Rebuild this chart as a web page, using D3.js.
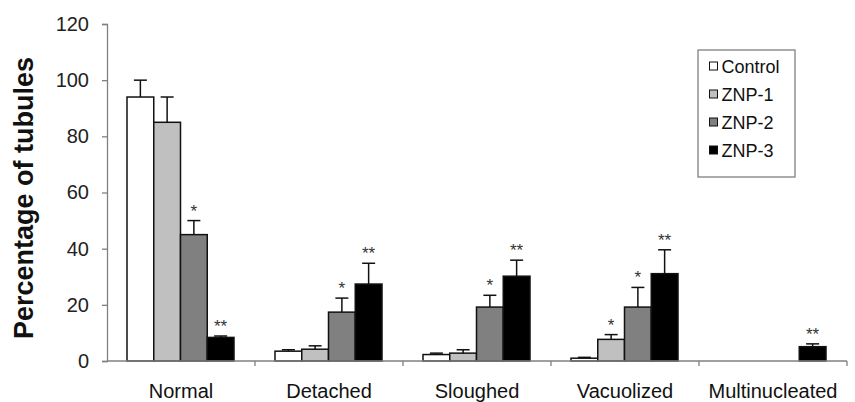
<!DOCTYPE html>
<html>
<head>
<meta charset="utf-8">
<script src="https://cdn.jsdelivr.net/npm/d3@7"></script>
<style>
  body { margin: 0; background: #fff; }
  text { font-family: "Liberation Sans", Arial, sans-serif; }
</style>
</head>
<body>
<svg id="chart"></svg>
<script>
'use strict';
const categories = ['Normal', 'Detached', 'Sloughed', 'Vacuolized', 'Multinucleated'];
const seriesNames = ['Control', 'ZNP-1', 'ZNP-2', 'ZNP-3'];
const seriesColors = ['#ffffff', '#c0c0c0', '#808080', '#000000'];
// one array per series, values per category
const controlVals = [94, 3.5, 2.3, 1, 0];
const znp1Vals = [85, 4.2, 2.8, 7.7, 0];
const znp2Vals = [45, 17.4, 19.2, 19.2, 0];
const znp3Vals = [8.4, 27.4, 30.2, 31.1, 5.1];
const controlErr = [6, 0.5, 0.5, 0.3, 0];
const znp1Err = [9, 1.2, 1.2, 1.7, 0];
const znp2Err = [5, 5, 4.2, 7, 0];
const znp3Err = [0.5, 7.4, 5.7, 8.5, 1];
const controlSig = ['', '', '', '', ''];
const znp1Sig = ['', '', '', '*', ''];
const znp2Sig = ['*', '*', '*', '*', ''];
const znp3Sig = ['**', '**', '**', '**', '**'];
const yTicks = [0, 20, 40, 60, 80, 100, 120];

const W = 855, H = 402;
const svg = d3.select('#chart').attr('width', W).attr('height', H);

const x0 = d3.scaleBand().domain(categories).range([107, 847]).paddingInner(0).paddingOuter(0);
const x1 = d3.scaleBand().domain(seriesNames).range([20, 127]);
const y = d3.scaleLinear().domain([0, 120]).range([361, 24]);

const vals = [controlVals, znp1Vals, znp2Vals, znp3Vals];
const errs = [controlErr, znp1Err, znp2Err, znp3Err];
const sigs = [controlSig, znp1Sig, znp2Sig, znp3Sig];

let rows = [];
categories.forEach(function(c, ci) {
  seriesNames.forEach(function(s, si) {
    rows.push({ cat: c, series: s, si: si, v: vals[si][ci], e: errs[si][ci], sig: sigs[si][ci] });
  });
});

// y axis
const yAxis = svg.append('g').attr('transform', 'translate(107,0)')
  .call(d3.axisLeft(y).tickValues(yTicks).tickSize(5).tickPadding(13));
yAxis.select('.domain').attr('stroke', '#808080').attr('stroke-width', 1.3);
yAxis.selectAll('.tick line').attr('stroke', '#808080').attr('stroke-width', 1.3);
yAxis.selectAll('.tick text').attr('font-size', 20).attr('fill', '#222');

svg.append('text')
  .attr('transform', 'translate(33,198) rotate(-90)')
  .attr('text-anchor', 'middle')
  .attr('font-size', 27)
  .attr('font-weight', 'bold')
  .attr('fill', '#111')
  .text('Percentage of tubules');

// bars
const bars = rows.filter(function(d) { return d.v > 0; });
svg.selectAll('rect.bar')
  .data(bars)
  .enter()
  .append('rect')
  .attr('class', 'bar')
  .attr('x', function(d) { return x0(d.cat) + x1(d.series); })
  .attr('width', x1.bandwidth())
  .attr('y', function(d) { return y(d.v); })
  .attr('height', function(d) { return y(0) - y(d.v); })
  .attr('fill', function(d) { return seriesColors[d.si]; })
  .attr('stroke', '#111')
  .attr('stroke-width', 1.5);

// error bars (upper only)
const eb = svg.selectAll('g.err')
  .data(bars.filter(function(d) { return d.e > 0; }))
  .enter()
  .append('g')
  .attr('class', 'err')
  .attr('stroke', '#111')
  .attr('stroke-width', 1.5);
eb.append('line')
  .attr('x1', function(d) { return x0(d.cat) + x1(d.series) + x1.bandwidth() / 2; })
  .attr('x2', function(d) { return x0(d.cat) + x1(d.series) + x1.bandwidth() / 2; })
  .attr('y1', function(d) { return y(d.v); })
  .attr('y2', function(d) { return y(d.v + d.e); });
eb.append('line')
  .attr('x1', function(d) { return x0(d.cat) + x1(d.series) + x1.bandwidth() / 2 - 6.5; })
  .attr('x2', function(d) { return x0(d.cat) + x1(d.series) + x1.bandwidth() / 2 + 6.5; })
  .attr('y1', function(d) { return y(d.v + d.e); })
  .attr('y2', function(d) { return y(d.v + d.e); });

// significance stars
svg.selectAll('text.sig')
  .data(rows.filter(function(d) { return d.sig; }))
  .enter()
  .append('text')
  .attr('class', 'sig')
  .attr('x', function(d) { return x0(d.cat) + x1(d.series) + x1.bandwidth() / 2; })
  .attr('y', function(d) { return y(d.v + d.e) + 2; })
  .attr('dy', '-0.35em')
  .attr('text-anchor', 'middle')
  .attr('font-size', 17)
  .attr('fill', '#333')
  .text(function(d) { return d.sig; });

// x axis
svg.append('line')
  .attr('x1', 107).attr('x2', 847)
  .attr('y1', y(0)).attr('y2', y(0))
  .attr('stroke', '#808080').attr('stroke-width', 1.3);
svg.selectAll('line.xtick')
  .data(categories)
  .enter()
  .append('line')
  .attr('class', 'xtick')
  .attr('x1', function(d) { return x0(d) + x0.bandwidth(); })
  .attr('x2', function(d) { return x0(d) + x0.bandwidth(); })
  .attr('y1', y(0)).attr('y2', y(0) + 5)
  .attr('stroke', '#808080').attr('stroke-width', 1.3);
svg.selectAll('text.xlab')
  .data(categories)
  .enter()
  .append('text')
  .attr('class', 'xlab')
  .attr('x', function(d) { return x0(d) + x0.bandwidth() / 2; })
  .attr('y', 398)
  .attr('text-anchor', 'middle')
  .attr('font-size', 20)
  .attr('fill', '#111')
  .text(function(d) { return d; });

// legend
const lg = svg.append('g').attr('transform', 'translate(698,50)');
lg.append('rect')
  .attr('width', 97).attr('height', 127)
  .attr('fill', '#fff').attr('stroke', '#808080').attr('stroke-width', 1.3);
const item = lg.selectAll('g.item')
  .data(seriesNames)
  .enter()
  .append('g')
  .attr('class', 'item')
  .attr('transform', function(d, i) { return 'translate(11.5,' + (16 + i * 28) + ')'; });
item.append('rect')
  .attr('x', 0).attr('y', -4)
  .attr('width', 8).attr('height', 8)
  .attr('fill', function(d, i) { return seriesColors[i]; })
  .attr('stroke', '#111');
item.append('text')
  .attr('x', 12).attr('y', 6.5)
  .attr('font-size', 18)
  .attr('fill', '#111')
  .text(function(d) { return d; });
</script>
</body>
</html>
